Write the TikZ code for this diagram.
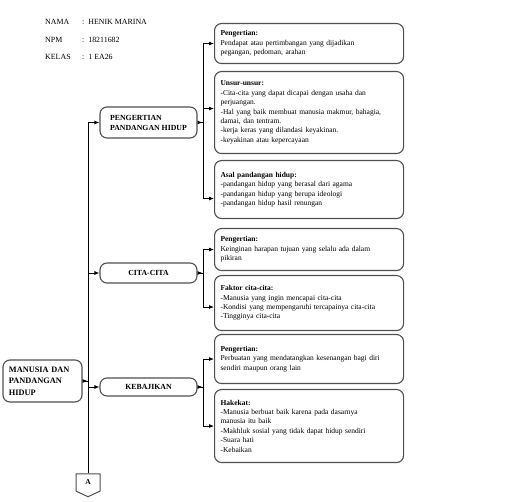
\documentclass[tikz,border=0pt]{standalone}
\usepackage{fontspec}
\setmainfont{Liberation Serif}
\usetikzlibrary{arrows.meta,shapes.symbols,calc}

\definecolor{boxb}{HTML}{505050}

\begin{document}
\begin{tikzpicture}[x=1pt, y=-1pt,
  font=\fontsize{7.5}{9.3}\selectfont,
  box/.style={draw=boxb, line width=1.1pt, rounded corners=7pt, fill=white, inner sep=4pt},
  mid/.style={box, font=\fontsize{7.8}{10}\selectfont\bfseries, minimum width=97pt, align=left},
  det/.style={box, anchor=north west, text width=177pt, inner xsep=6pt, align=left,
              font=\fontsize{7.5}{9.4}\selectfont},
  hd/.style={anchor=west, inner sep=0pt, font=\fontsize{7.9}{9}\selectfont},
  flow/.style={-{Latex[length=5pt,width=4pt]}, line width=.85pt},
  outtip/.style={{Latex[length=5pt,width=4pt,reversed]}-, line width=.85pt},
  line/.style={line width=.85pt},
]
\useasboundingbox (0,0) rectangle (512,502);

% ---------------- header
\node[hd] (nama)  at (45,22) {\makebox[37pt][l]{NAMA}:\ \ HENIK MARINA};
\node[hd] (npm)   at (45,40) {\makebox[37pt][l]{NPM}:\ \ 18211682};
\node[hd] (kelas) at (45,57) {\makebox[37pt][l]{KELAS}:\ \ 1 EA26};

% ---------------- root and topics
\node[box, font=\fontsize{8.3}{11.5}\selectfont\bfseries, text width=67pt, inner xsep=6pt,
      minimum height=42pt, align=left] (root) at (42.5,381) {MANUSIA DAN\\PANDANGAN\\HIDUP};
\node[mid, minimum height=31pt] (peng)  at (148.5,122.5) {PENGERTIAN\\PANDANGAN HIDUP};
\node[mid, minimum height=20pt] (cita)  at (148.5,273) {CITA-CITA};
\node[mid, minimum height=18pt] (kebaj) at (148.5,387) {KEBAJIKAN};

\node[draw=boxb, line width=1pt, fill=white, signal, signal to=south, signal pointer angle=130,
      minimum width=24pt, minimum height=19pt, inner sep=1pt,
      font=\fontsize{7.5}{8}\selectfont\bfseries] (offA) at (88,482.5) {A};

% ---------------- details
\node[det, minimum height=40pt] (pArti) at (214,23)
  {\textbf{Pengertian:}\\Pendapat atau pertimbangan yang dijadikan\\pegangan, pedoman, arahan};
\node[det, minimum height=82pt] (pUnsur) at (214,71)
  {\textbf{Unsur-unsur:}\\-Cita-cita yang dapat dicapai dengan usaha dan\\perjuangan.\\
   -Hal yang baik membuat manusia makmur, bahagia,\\damai, dan tentram.\\
   -kerja keras yang dilandasi keyakinan.\\-keyakinan atau kepercayaan};
\node[det, minimum height=58pt] (pAsal) at (214,160)
  {\textbf{Asal pandangan hidup:}\\-pandangan hidup yang berasal dari agama\\
   -pandangan hidup yang berupa ideologi\\-pandangan hidup hasil renungan};
\node[det, minimum height=42pt] (cArti) at (214,228)
  {\textbf{Pengertian:}\\Keinginan harapan tujuan yang selalu ada dalam\\pikiran};
\node[det, minimum height=55pt] (cFaktor) at (214,275)
  {\textbf{Faktor cita-cita:}\\-Manusia yang ingin mencapai cita-cita\\
   -Kondisi yang mempengaruhi tercapainya cita-cita\\-Tingginya cita-cita};
\node[det, minimum height=49pt] (kArti) at (214,334)
  {\textbf{Pengertian:}\\Perbuatan yang mendatangkan kesenangan bagi diri\\sendiri maupun orang lain};
\node[det, minimum height=73pt] (kHakekat) at (214,389)
  {\textbf{Hakekat:}\\-Manusia berbuat baik karena pada dasarnya\\manusia itu baik\\
   -Makhluk sosial yang tidak dapat hidup sendiri\\-Suara hati\\-Kebaikan};

% ---------------- connectors
\coordinate (tx) at (88,0);
\coordinate (rx) at (203,0);

\draw[line] (peng.west -| tx) -- (offA.north);
\draw[outtip] (root.east) -- (root.east -| tx);
\draw[flow] (peng.west -| tx) -- (peng.west);
\draw[flow] (cita.west -| tx) -- (cita.west);
\draw[flow] (kebaj.west -| tx) -- (kebaj.west);

\draw[outtip] (peng.east) -- (peng.east -| rx);
\draw[flow] (peng.east -| rx) |- (pArti.west);
\draw[flow] (peng.east -| rx) |- ([yshift=4pt]pUnsur.west);
\draw[flow] (peng.east -| rx) |- ([yshift=-9pt]pAsal.west);

\draw[outtip] (cita.east) -- (cita.east -| rx);
\draw[flow] (cita.east -| rx) |- (cArti.west);
\draw[flow] (cita.east -| rx) |- ([yshift=-4pt]cFaktor.west);

\draw[outtip] (kebaj.east) -- (kebaj.east -| rx);
\draw[flow] (kebaj.east -| rx) |- (kArti.west);
\draw[flow] (kebaj.east -| rx) |- (kHakekat.west);

\end{tikzpicture}
\end{document}
